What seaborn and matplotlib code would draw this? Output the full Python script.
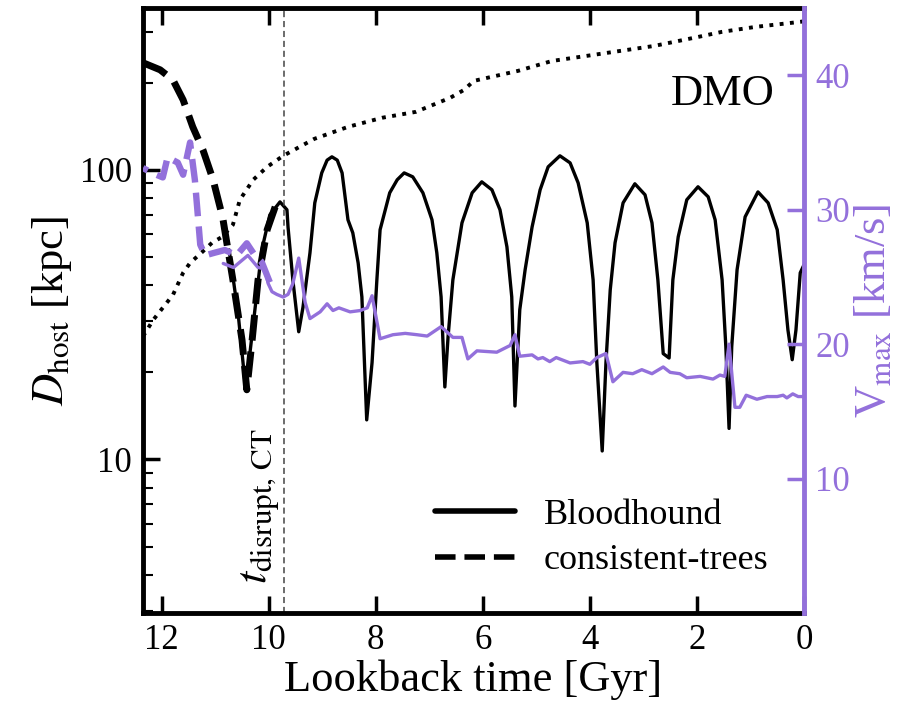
import numpy as np
import pandas as pd
import matplotlib
matplotlib.use("Agg")
import matplotlib.pyplot as plt
import seaborn as sns

# ---- Bloodhound host distance [kpc] vs lookback time [Gyr]
bh_time = [10.74, 10.57, 10.43, 10.28, 10.13, 9.98, 9.79, 9.66, 9.64, 9.55, 9.44,
           9.36, 9.23, 9.14, 9.01, 8.91, 8.82, 8.72, 8.63, 8.52, 8.43, 8.33, 8.26, 8.17,
           8.07, 7.98, 7.92, 7.74, 7.60, 7.47, 7.31, 7.12, 6.95, 6.86, 6.78, 6.71,
           6.65, 6.56, 6.39, 6.20, 6.02, 5.83, 5.68, 5.55, 5.46, 5.40,
           5.31, 5.21, 5.08, 4.93, 4.78, 4.56, 4.37, 4.22, 4.05, 3.94, 3.87, 3.77,
           3.70, 3.62, 3.53, 3.38, 3.16, 2.97, 2.84, 2.73, 2.63, 2.52,
           2.45, 2.35, 2.19, 1.98, 1.79, 1.66, 1.53, 1.46, 1.40,
           1.35, 1.25, 1.10, 0.86, 0.67, 0.50, 0.39, 0.30, 0.22,
           0.15, 0.07, 0.00]
bh_dist = [52.9, 31.6, 17.4, 30.4, 52.9, 69.9, 77.5, 72.8, 63.5, 41.7, 27.6,
           33.6, 51.7, 76.9, 97.6, 108.0, 110.9, 108.0, 97.6, 67.2, 60.6, 47.7, 36.4, 13.7,
           21.6, 41.7, 62.1, 83.3, 92.4, 97.6, 94.6, 83.3, 67.2, 51.7, 36.4, 17.8,
           26.5, 41.7, 65.6, 83.3, 90.9, 85.3, 72.8, 54.2, 36.4, 15.3,
           32.9, 45.2, 63.5, 85.3, 102.4, 111.8, 105.7, 90.2, 65.6, 41.7, 21.6, 10.7,
           21.6, 38.5, 56.0, 76.9, 89.5, 82.0, 65.6, 41.7, 23.2, 22.4,
           41.7, 58.7, 78.8, 87.4, 80.7, 67.2, 41.7, 24.5, 12.8,
           24.5, 45.2, 68.8, 83.9, 76.9, 62.1, 41.7, 28.0, 22.1,
           28.0, 44.1, 47.0]

# ---- consistent-trees host distance [kpc]
ct_time = [12.35, 12.03, 11.79, 11.60, 11.42, 11.23, 11.04, 10.86, 10.67, 10.50,
           10.41, 10.31, 10.20, 10.03, 9.88]
ct_dist = [234.3, 221.5, 204.4, 174.4, 140.7, 117.2, 92.4, 68.3, 41.7, 25.9,
           17.4, 25.9, 41.7, 62.1, 74.5]

# ---- host radius [kpc]
host_time = [12.35, 12.16, 11.98, 11.79, 11.60, 11.47, 11.24, 11.06, 10.87, 10.67,
             10.54, 10.29, 10.03, 9.73, 9.15, 8.52, 7.88, 7.25, 6.61, 6.35, 6.17,
             5.34, 4.71, 4.07, 3.44, 2.80, 1.98, 1.53, 0.90, 0.07, 0.00]
host_radius = [26.6, 30.3, 33.4, 37.0, 44.1, 47.7, 52.1, 56.0, 58.7, 64.6,
               78.8, 92.4, 102.4, 111.8, 127.9, 140.7, 151.3, 158.6, 177.3, 188.9, 202.8,
               219.7, 237.6, 247.3, 257.3, 267.8, 287.6, 299.6, 311.7, 324.3, 326.0]

# ---- Vmax [km/s], Bloodhound
bh_vtime = [10.85, 10.66, 10.54, 10.39, 10.20, 10.07, 10.01, 9.94, 9.85, 9.73, 9.64,
            9.55, 9.44, 9.32, 9.23, 9.04, 8.91, 8.80, 8.69, 8.48, 8.29, 8.16, 8.07,
            7.92, 7.68, 7.45, 7.23, 7.04, 6.78, 6.56, 6.39, 6.28, 6.11, 5.74, 5.49,
            5.40, 5.31, 5.08, 4.97, 4.88, 4.75, 4.63, 4.37, 4.13, 4.00, 3.87, 3.70,
            3.57, 3.38, 3.20, 3.03, 2.84, 2.63, 2.50, 2.32, 2.19, 1.94, 1.70, 1.57,
            1.48, 1.40, 1.29, 1.20, 1.08, 0.88, 0.69, 0.50, 0.39, 0.32, 0.21, 0.11, 0.00]
bh_vmax = [26.0, 25.7, 26.1, 26.6, 25.7, 25.6, 24.5, 23.9, 23.7, 23.5, 23.7,
           24.5, 26.4, 23.1, 21.9, 22.4, 23.0, 22.5, 22.7, 22.4, 22.5, 22.7, 23.6,
           20.4, 20.7, 20.8, 20.7, 20.6, 21.3, 20.5, 20.5, 18.9, 19.5, 19.4, 19.9,
           20.7, 19.1, 19.2, 18.9, 19.0, 18.7, 19.0, 18.6, 18.7, 18.5, 19.0, 19.3,
           17.2, 17.9, 17.8, 18.1, 17.8, 18.3, 17.9, 17.8, 17.5, 17.6, 17.4, 17.7,
           17.6, 20.0, 15.3, 15.3, 16.2, 15.9, 16.1, 16.1, 16.2, 16.0, 16.3, 16.1, 16.1]

# ---- Vmax [km/s], consistent-trees
ct_vtime = [12.35, 12.16, 11.98, 11.89, 11.70, 11.60, 11.47, 11.38, 11.28, 11.19,
            11.01, 10.82, 10.60, 10.41, 10.26, 10.13, 9.98]
ct_vmax = [33.1, 32.7, 32.4, 33.9, 33.5, 32.6, 35.0, 32.2, 27.4, 26.6,
           26.8, 27.0, 26.6, 27.5, 26.6, 26.1, 24.6]

t_disrupt_ct = 9.72

x_ticks = [12, 10, 8, 6, 4, 2, 0]
left_ticks = [10, 100]
left_ticklabels = ["10", "100"]
right_ticks = [10, 20, 30, 40]

PURPLE = "#9370DB"

sns.set_theme(style="ticks")
plt.rcParams["font.family"] = ["Liberation Serif", "DejaVu Serif"]
plt.rcParams["mathtext.fontset"] = "stix"
for key in ["text.color", "axes.labelcolor", "xtick.color", "ytick.color",
            "axes.edgecolor"]:
    plt.rcParams[key] = "black"

fig = plt.figure(figsize=(9.13, 7.10), dpi=100)
ax = fig.add_axes([0.1566, 0.1366, 0.7240, 0.8521])
ax2 = ax.twinx()

# host-distance curves
sns.lineplot(x=host_time, y=host_radius, ax=ax, color="black", lw=2.8,
             linestyle=(0, (1, 1.65)), estimator=None)
sns.lineplot(x=bh_time, y=bh_dist, ax=ax, color="black", lw=2.4,
             estimator=None, label="Bloodhound")
sns.lineplot(x=ct_time, y=ct_dist, ax=ax, color="black", lw=5,
             linestyle="--", estimator=None, label="consistent-trees")
ax.axvline(t_disrupt_ct, color="#444444", lw=1.1, linestyle=(0, (4, 2.5)))

# Vmax curves
sns.lineplot(x=bh_vtime, y=bh_vmax, ax=ax2, color=PURPLE, lw=2.4, estimator=None)
sns.lineplot(x=ct_vtime, y=ct_vmax, ax=ax2, color=PURPLE, lw=4.6,
             linestyle="--", estimator=None)

ax.set_yscale("log")
ax.set_xlim(12.35, 0)
ax.set_ylim(2.95, 362)
ax2.set_ylim(0, 45)

ax.set_xticks(x_ticks)
ax.set_xticklabels([str(v) for v in x_ticks])
ax.set_yticks(left_ticks)
ax.set_yticklabels(left_ticklabels)
ax2.set_yticks(right_ticks)
ax2.set_yticklabels([str(v) for v in right_ticks])

ax.tick_params(axis="both", which="major", direction="in", length=12, width=2.5,
               labelsize=25, top=True, right=False, pad=8, colors="black")
ax.tick_params(axis="y", which="minor", direction="in", length=7, width=1.5,
               left=True, right=False, colors="black")
ax.tick_params(axis="x", which="minor", bottom=False, top=False)
ax2.tick_params(axis="y", which="major", direction="in", length=12, width=2.5,
                labelsize=25, colors=PURPLE, pad=8)
ax2.tick_params(axis="y", which="minor", right=False)

for side in ["left", "top", "bottom"]:
    ax.spines[side].set_linewidth(3.5)
    ax.spines[side].set_color("black")
    ax2.spines[side].set_visible(False)
ax.spines["right"].set_visible(False)
ax2.spines["right"].set_color(PURPLE)
ax2.spines["right"].set_linewidth(3.5)

ax.set_xlabel("Lookback time [Gyr]", fontsize=32, labelpad=2, color="black")
ax.set_ylabel(r"$D_{\rm host}$ [kpc]", fontsize=32, labelpad=4, color="black")
ax2.set_ylabel(r"V$_{\rm max}$ [km/s]", fontsize=32, color=PURPLE, labelpad=2)

ax.text(10.15, 6.9, r"$t_{\rm disrupt,\,CT}$", rotation=90, fontsize=32,
        ha="center", va="center", color="black")
ax.text(0.54, 183, "DMO", fontsize=32, ha="right", va="center", color="black")

leg = ax.legend(loc="lower right", bbox_to_anchor=(0.995, 0.005), frameon=False,
                fontsize=26, handlelength=2.2, handletextpad=0.8, labelspacing=0.35)
for line in leg.get_lines():
    line.set_linewidth(4)
for txt in leg.get_texts():
    txt.set_color("black")

fig.savefig("out.png", dpi=100)
